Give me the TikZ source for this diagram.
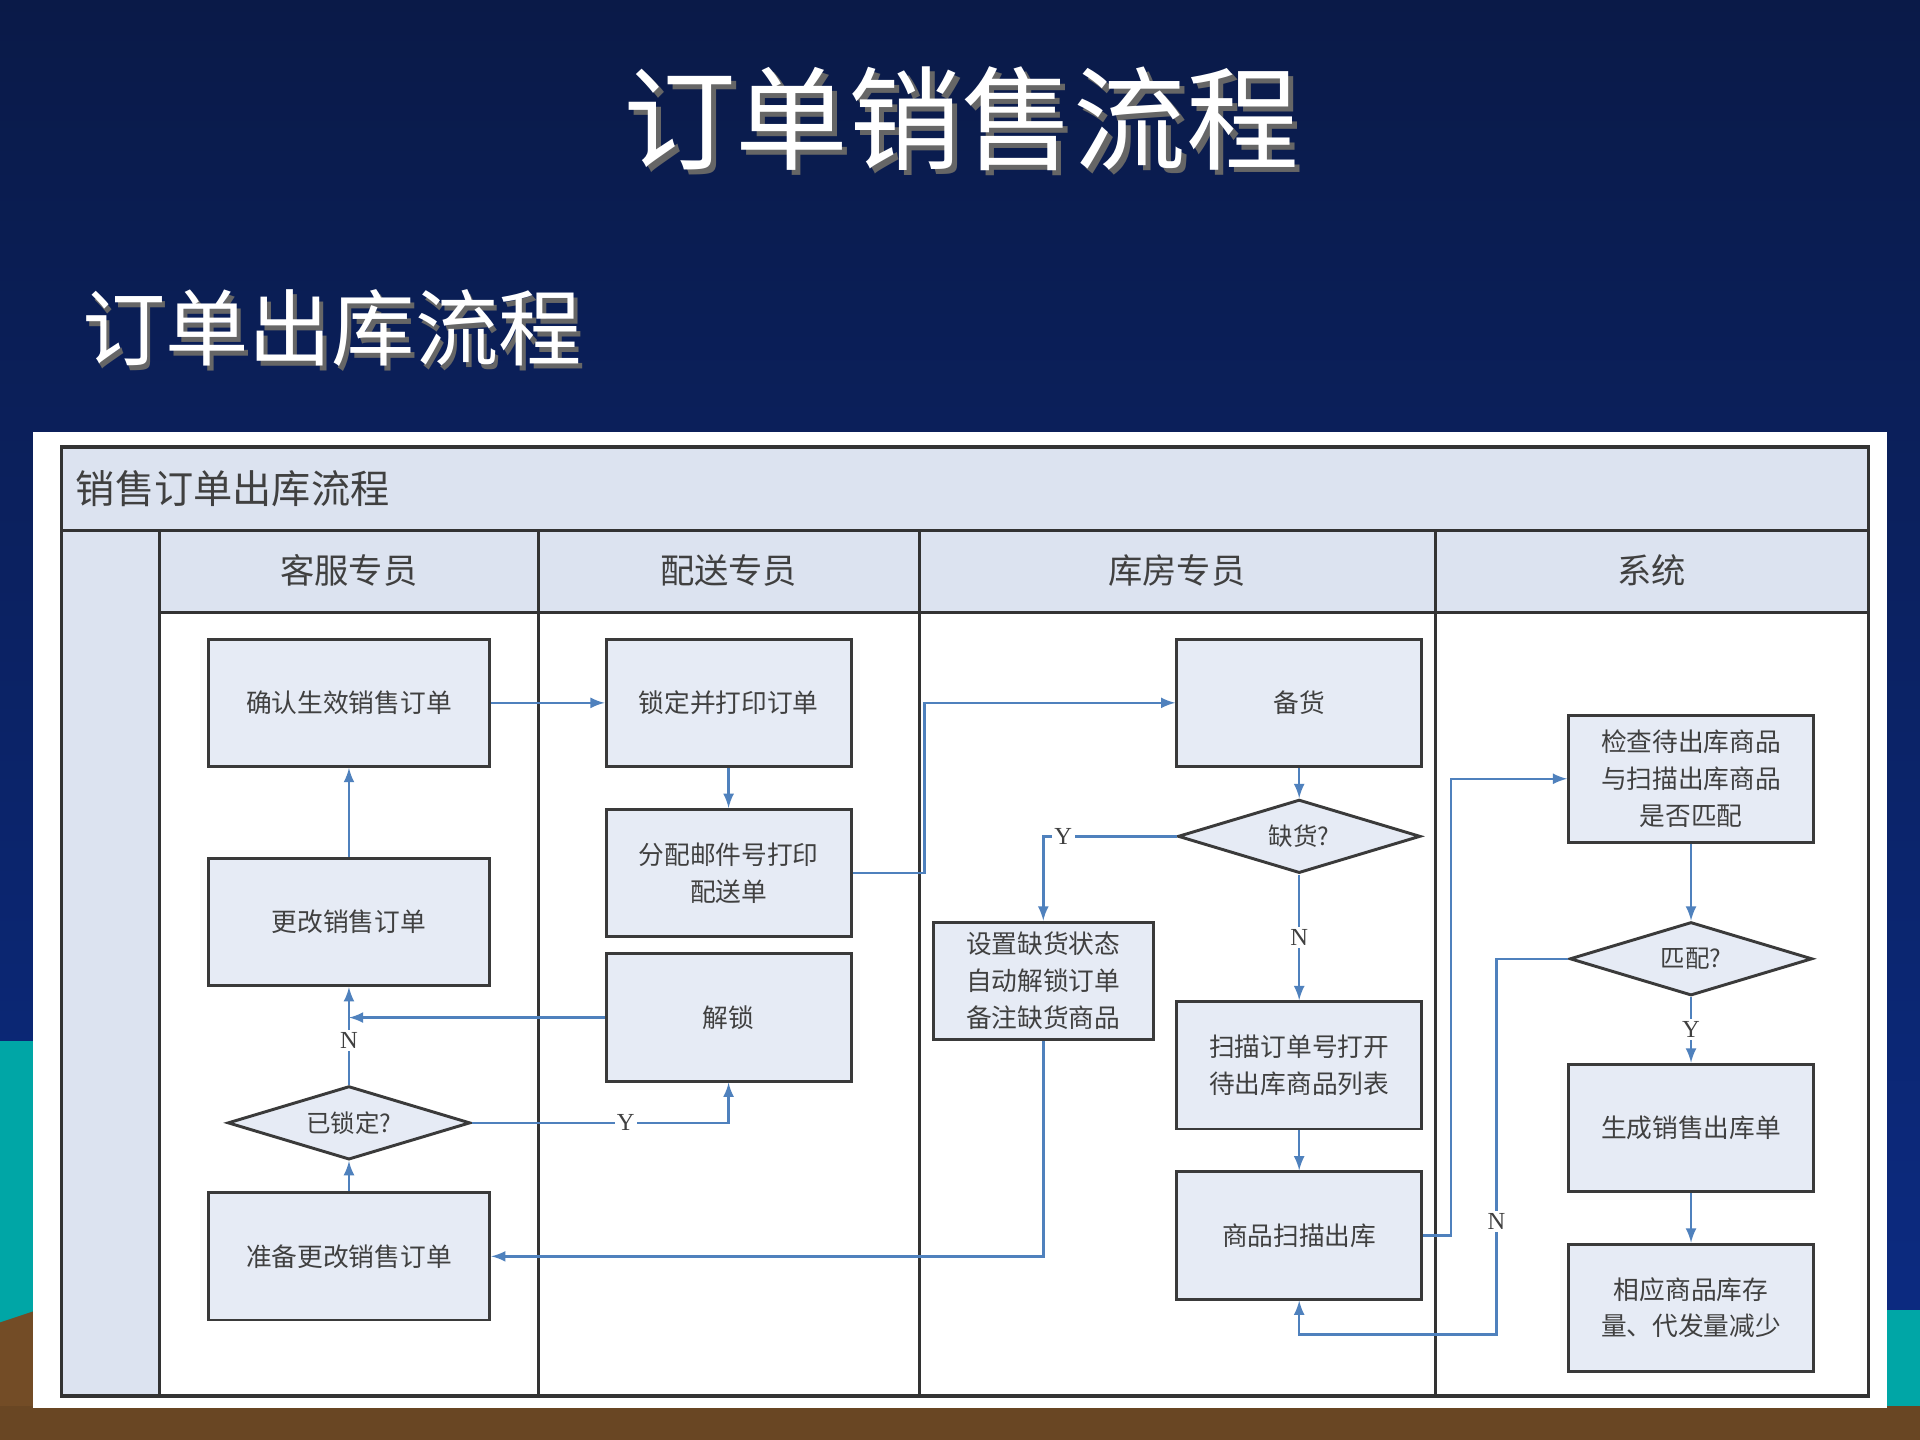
\documentclass[tikz,border=0pt]{standalone}
\usepackage{fontspec}
\setmainfont{Liberation Serif}
\newfontfamily\cjk{Noto Sans CJK SC}
\usetikzlibrary{shapes.geometric,shadows}
\definecolor{navyA}{HTML}{0A1A48}
\definecolor{navyB}{HTML}{0C2C86}
\definecolor{boxfill}{HTML}{E6EBF5}
\definecolor{hdrfill}{HTML}{DCE3F0}
\definecolor{lnk}{HTML}{4F81BD}
\definecolor{edge}{HTML}{3A3A3A}
\tikzset{
  box/.style={draw=edge,line width=1.2pt,fill=boxfill,minimum width=100pt,minimum height=52pt,inner sep=2pt,align=center,font=\cjk\fontsize{10.5}{15}\selectfont,text=black!75},
  dia/.style={draw=edge,line width=1.2pt,fill=boxfill,diamond,aspect=3.3,minimum width=99pt,minimum height=30pt,inner sep=0pt,font=\cjk\fontsize{10}{12}\selectfont,text=black!75},
  lk/.style={draw=lnk,line width=1pt,-latex},
  lab/.style={fill=white,inner sep=1pt,font=\fontsize{10}{12}\selectfont,text=black!75},
  frm/.style={draw=black!80,line width=1.3pt}
}
\begin{document}
\begin{tikzpicture}[x=0.5pt,y=-0.5pt]
\useasboundingbox (0,0) rectangle (1568,1176);
\shade[top color=navyA,bottom color=navyB] (0,0) rectangle (1568,1176);
\fill[teal!70!cyan] (0,850) rectangle (30,1090);
\fill[teal!70!cyan] (1538,1070) rectangle (1568,1150);
\fill[brown!60!black] (0,1080) -- (30,1070) -- (30,1150) -- (0,1150) -- cycle;
\fill[brown!55!black] (0,1148) rectangle (1568,1176);
\node[text=black!60,font=\cjk\fontsize{46}{50}\selectfont] at (789,101) {订单销售流程};
\node (t) [text=white,font=\cjk\fontsize{46}{50}\selectfont] at (785,97) {订单销售流程};
\node[text=black!60,anchor=west,font=\cjk\fontsize{34}{38}\selectfont] at (63,272) {订单出库流程};
\node (st) [text=white,anchor=west,font=\cjk\fontsize{34}{38}\selectfont] at (60,268) {订单出库流程};
\fill[white] (27,353) rectangle (1541,1150);
% table
\fill[hdrfill] (50,365) rectangle (1526,433);
\fill[hdrfill] (50,433) rectangle (130,1140);
\fill[hdrfill] (130,433) rectangle (1526,500);
\draw[frm] (50,365) rectangle (1526,1140);
\draw[frm] (50,433) -- (1526,433);
\draw[frm] (130,500) -- (1526,500);
\foreach \x in {130,440,751,1172} \draw[frm] (\x,433) -- (\x,1140);
\node[anchor=west,text=black!75,font=\cjk\fontsize{16}{18}\selectfont] at (55,399) {销售订单出库流程};
\foreach \x/\t in {285/客服专员,595/配送专员,961/库房专员,1349/系统}
  \node[text=black!75,font=\cjk\fontsize{14}{16}\selectfont] at (\x,466) {\t};
% nodes
\node[box,minimum width=115pt] (A) at (285,574) {确认生效销售订单};
\node[box,minimum width=115pt] (B) at (285,753) {更改销售订单};
\node[dia] (C) at (285,917) {已锁定?};
\node[box,minimum width=115pt] (D) at (285,1026) {准备更改销售订单};
\node[box] (E) at (595,574) {锁定并打印订单};
\node[box] (F) at (595,713) {分配邮件号打印\\配送单};
\node[box] (G) at (595,831) {解锁};
\node[box] (H) at (1061,574) {备货};
\node[dia] (I) at (1061,683) {缺货?};
\node[box,minimum width=90pt,minimum height=48pt] (J) at (852,801) {设置缺货状态\\自动解锁订单\\备注缺货商品};
\node[box] (K) at (1061,870) {扫描订单号打开\\待出库商品列表};
\node[box] (L) at (1061,1009) {商品扫描出库};
\node[box] (M) at (1381,636) {检查待出库商品\\与扫描出库商品\\是否匹配};
\node[dia] (N) at (1381,783) {匹配?};
\node[box] (O) at (1381,921) {生成销售出库单};
\node[box] (P) at (1381,1068) {相应商品库存\\量、代发量减少};
\coordinate (g1) at (285,831);
% links
\draw[lk] (A) -- (E);
\draw[lk] (E) -- (F);
\draw[lk] (F.east) -- (755,713) -- (755,574) -- (H.west);
\draw[lk] (H) -- (I);
\draw[lk] (I.west) -- node[lab,pos=0.85]{Y} (852,683) -- (J.north);
\draw[lk] (I.south) -- node[lab]{N} (K.north);
\draw[lk] (K) -- (L);
\draw[lk] (J.south) -- (852,1026) -- (D.east);
\draw[lk] (L.east) -- (1185,1009) -- (1185,636) -- (M.west);
\draw[lk] (M) -- (N);
\draw[lk] (N.south) -- node[lab]{Y} (O.north);
\draw[lk] (O) -- (P);
\draw[lk] (N.west) -- (1222,783) -- node[lab,pos=0.7]{N} (1222,1090) -- (1061,1090) -- (L.south);
\draw[lk] (D) -- (C);
\draw[lk] (C.east) -- node[lab,pos=0.6]{Y} (595,917) -- (G.south);
\draw[lk] (C.north) -- node[lab,pos=0.45]{N} (B.south);
\draw[lk] (G.west) -- (g1);
\draw[lk] (B) -- (A);
\end{tikzpicture}
\end{document}
